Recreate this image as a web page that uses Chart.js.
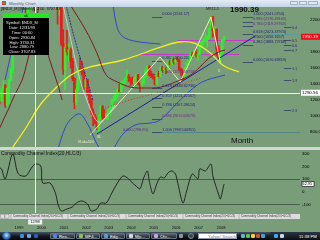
<!DOCTYPE html>
<html>
<head>
<meta charset="utf-8">
<title>Monthly Chart</title>
<script src="https://cdn.jsdelivr.net/npm/chart.js@4.4.1/dist/chart.umd.min.js"></script>
<style>
html,body{margin:0;padding:0}
body{width:320px;height:240px;overflow:hidden;position:relative;background:#799c79;font-family:"Liberation Sans",Arial,sans-serif}
.abs{position:absolute}
.tx{position:absolute;transform-origin:0 0;transform:scale(.25);font-size:17px;line-height:20px;white-space:nowrap}
#titlebar{left:0;top:0;width:320px;height:7px;background:linear-gradient(#e4ecf5,#c4d3e6)}
#main{left:0;top:7px}
#sep{left:0;top:147px;width:320px;height:3px;background:#d3d7d3}
#cci{left:0;top:150px}
#taskbar{left:0;top:232px;width:320px;height:8px;background:linear-gradient(#46525f,#141a22 50%,#05070a)}
.btn{position:absolute;top:233px;height:6px;border:1px solid #667382;border-radius:1px;background:linear-gradient(#55616e,#20282f);box-sizing:border-box}
.ico{position:absolute;top:234px;width:4px;height:4px;border-radius:1px}
</style>
</head>
<body>
<div id="titlebar" class="abs"></div>
<div class="abs" style="left:2px;top:1px;width:4px;height:4px;background:#6a9a3a;border:1px solid #c0463a;box-sizing:border-box"></div>
<span class="tx" style="left:9px;top:0.8px;color:#5b6270">Monthly Chart</span>
<div class="abs" style="left:290px;top:1px;width:8px;height:4px;border:1px solid #a3b1c3;background:#dfe7f1;box-sizing:border-box"></div>
<div class="abs" style="left:299px;top:1px;width:8px;height:4px;border:1px solid #a3b1c3;background:#dfe7f1;box-sizing:border-box"></div>
<div class="abs" style="left:308px;top:1px;width:10px;height:4px;border:1px solid #a3b1c3;background:#dfe7f1;box-sizing:border-box"></div>

<canvas id="main" class="abs" width="320" height="140"></canvas>
<div id="sep" class="abs"></div>
<canvas id="cci" class="abs" width="320" height="82"></canvas>

<div id="taskbar" class="abs"></div>
<div class="abs" style="left:2px;top:232px;width:9px;height:8px;border-radius:50%;background:radial-gradient(circle at 50% 40%,#bfe4ff,#3a7cc8 45%,#0b2a55 80%)"></div>
<div class="ico" style="left:20px;background:#3d8be0"></div>
<div class="ico" style="left:27px;background:#6fa8dc"></div>
<div class="ico" style="left:34px;background:#2c5fb0"></div>
<div class="btn" style="left:50px;width:25px"></div>
<div class="btn" style="left:76px;width:24px"></div>
<div class="btn" style="left:101px;width:24px"></div>
<div class="btn" style="left:126px;width:24px"></div>
<div class="btn" style="left:151px;width:26px"></div>
<div class="ico" style="left:53px;background:#4c86d8"></div>
<div class="ico" style="left:79px;background:#8bbf5a"></div>
<div class="ico" style="left:104px;background:#5a9ad8"></div>
<div class="ico" style="left:129px;background:#d0d8e0"></div>
<div class="ico" style="left:154px;background:#c9a0d8"></div>
<span class="tx" style="left:59px;top:234px;color:#fff">Rea...</span>
<span class="tx" style="left:85px;top:234px;color:#fff">MF4...</span>
<span class="tx" style="left:110px;top:234px;color:#fff">Edg...</span>
<span class="tx" style="left:135px;top:234px;color:#fff">Mjc...</span>
<span class="tx" style="left:160px;top:234px;color:#fff">Chr...</span>
<div class="ico" style="left:179px;background:#8a96a4"></div>
<div class="abs" style="left:188px;top:233px;width:6px;height:6px;border-radius:50%;background:#3a4450;border:1px solid #7a8694;box-sizing:border-box"></div>
<div class="abs" style="left:198px;top:233px;width:39px;height:6px;background:#fff;border:1px solid #8a96a6;box-sizing:border-box"></div>
<span class="tx" style="left:208px;top:234px;color:#777">Yahoo! Search</span>
<div class="ico" style="left:241px;background:#60b0e0"></div>
<div class="ico" style="left:246px;background:#6ac040"></div>
<div class="ico" style="left:251px;background:#f0d040"></div>
<div class="ico" style="left:256px;background:#d05040"></div>
<div class="ico" style="left:261px;background:#40a0d0"></div>
<div class="abs" style="left:270px;top:232px;width:50px;height:8px;background:linear-gradient(#2a3644,#0a0f16)"></div>
<div class="ico" style="left:274px;background:#4aa0e8"></div>
<div class="ico" style="left:280px;background:#c8d4e0"></div>
<span class="tx" style="left:299px;top:234px;color:#fff">11:38 PM</span>

<script>
// months are counted from Jan 1998 (0 = Jan 1998); first candle is May 1998
const firstMonth = 4;

const opens = [
  1245,1188,1337,1380,1140,1345,1449,1582,
  1836,2128,1934,2107,2137,2090,2296,2288,2406,2407,2660,2966,
  3708,3570,4266,4398,3774,3324,3764,3609,4078,3571,3283,2507,
  2342,2594,1908,1574,1855,1800,1830,1684,1470,1169,1330,1596,
  1577,1550,1359,1453,1277,1209,1051,962,943,833,990,1116,
  984,982,1010,1018,1106,1201,1201,1263,1331,1303,1417,1422,
  1468,1494,1469,1439,1401,1466,1517,1400,1380,1413,1485,1571,
  1622,1519,1504,1483,1394,1533,1494,1605,1568,1601,1580,1680,
  1645,1712,1675,1704,1700,1580,1576,1480,1599,1654,1737,1758,
  1757,1794,1758,1772,1869,1932,1935,1960,1985,2092,2239,2069,
  2085,1840,1733,1781,1950
];
const highs = [
  1270,1340,1440,1395,1360,1460,1600,1840,
  2175,2140,2145,2220,2230,2300,2410,2410,2480,2680,2980,3730,
  3836,4288,4816,4480,3900,3790,4060,4090,4110,3650,3430,2640,
  2730,2610,2080,1900,2070,1910,1850,1720,1480,1400,1610,1730,
  1680,1560,1520,1460,1330,1220,1090,1020,990,1020,1130,1130,
  1080,1030,1080,1110,1210,1250,1290,1340,1400,1430,1440,1470,
  1580,1520,1480,1490,1480,1520,1520,1410,1440,1500,1590,1630,
  1630,1560,1530,1500,1540,1560,1610,1620,1610,1610,1690,1700,
  1750,1720,1730,1740,1710,1600,1580,1610,1670,1750,1800,1800,
  1820,1830,1790,1870,1940,1970,2030,2000,2100,2240,2245,2120,
  2090,1880,1800,1960,2000
];
const lows = [
  1150,1180,1330,1110,1120,1150,1440,1540,
  1830,1890,1900,2020,2000,1990,2260,2180,2330,2330,2650,2960,
  3260,3540,4100,3230,3040,3250,3580,3500,3530,2990,2500,2150,
  2260,1880,1520,1330,1760,1680,1600,1440,1090,1140,1310,1550,
  1510,1330,1350,1260,1160,1020,880,900,830,795,960,960,
  970,960,950,1010,1100,1180,1190,1230,1300,1300,1370,1400,
  1460,1430,1380,1400,1370,1440,1390,1300,1370,1400,1480,1560,
  1500,1480,1460,1390,1390,1490,1490,1550,1540,1530,1570,1640,
  1640,1650,1660,1680,1560,1500,1450,1470,1590,1640,1720,1730,
  1740,1740,1690,1770,1860,1890,1930,1860,1960,2090,1990,2010,
  1750,1720,1670,1770,1940
];
const closes = [
  1188,1337,1380,1140,1345,1449,1582,1836,
  2128,1934,2107,2137,2090,2296,2288,2406,2407,2660,2966,3708,
  3570,4266,4398,3774,3324,3764,3609,4078,3571,3283,2507,2342,
  2594,1908,1574,1855,1800,1830,1684,1470,1169,1330,1596,1577,
  1550,1359,1453,1277,1209,1051,962,943,833,990,1116,984,
  982,1010,1018,1106,1201,1201,1263,1331,1303,1417,1422,1468,
  1494,1469,1439,1401,1466,1517,1400,1380,1413,1485,1571,1622,
  1519,1504,1483,1394,1533,1494,1605,1568,1601,1580,1680,1645,
  1712,1675,1704,1700,1580,1576,1480,1599,1654,1737,1758,1757,
  1794,1758,1772,1869,1932,1935,1960,1985,2092,2239,2069,2085,
  1840,1733,1781,1950,1990.39
];

// overlay lines (month, price)
const yellowT = [10,18,26,34,42,52,70,90,100,108,116,124,132];
const yellowP = [575,850,1150,1350,1510,1610,1700,1860,1925,1910,1800,1625,1550];
const maroonEarlyT = [4,8.5,12,16,19,22,25];
const maroonEarlyP = [850,1075,1260,1450,1700,2000,2380];
const maroon2T = [22,26.7,32,35.2,37.4];
const maroon2P = [2380,2012,1612,1387,1200];
const maroonT = [42,50,56,61,67,74,82,90,98,106,111,116,121,124.5];
const maroonP = [2380,2075,1790,1510,1425,1360,1350,1360,1425,1510,1610,1725,1800,1825];
const greyT = [38,42.7,47,52.3,56.6,60.4,65.7];
const greyP = [2380,1887,1450,1100,925,975,1137];
const blueDashT = [39.5,44.3,50.7,53.9];
const blueDashP = [2380,1950,1450,1200];
const blueLeftT = [6.9,10.6,14.9,17];
const blueLeftP = [1450,1825,2200,2380];
const blueUpperT = [64.6,67.3,71,79,90];
const blueUpperP = [2380,2075,1975,1925,1900];
const blueLow1T = [35,39,42.7,47,51.3,55,57.7];
const blueLow1P = [575,850,975,1025,888,700,575];
const blueLow2T = [64.6,69.5,76.4,84.4,89.8,100.5,109.6,114.9,124.5];
const blueLow2P = [575,762,887,912,950,1200,1387,1450,1512];
const redDotT = [60.4,73.7,89.8,100.5,111.2];
const redDotP = [1100,1200,1300,1387,1475];
const paleT = [52.3,89.8,100.5,117,122];
const paleP = [762,1737,1425,2237,1670];
const trendT = [56,141];
const trendP = [775,2005];

// fibonacci tools
const fibALabels = ['0.000 (2241.17)','0.382 (1690.23)','0.500 (1520.03718)','0.618 (1349.62736)','0.707 (1221.22567)','0.786 (1107.28624)','0.886 (963.003678)','1.000 (798.544351)'];
const fibAValues = [2241.17,1690.23,1520.04,1349.63,1221.23,1107.29,963.0,798.54];
const fibBLabels = ['1.000 (2241.5750)','0.886 (2176.48163)','0.786 (2119.29763)','0.618 (2023.47974)','0.500 (1956.1657)','0.382 (1888.72768)','0.000 (1670.63819)'];
const fibBValues = [2241.58,2176.48,2119.30,2023.48,1956.17,1888.73,1670.64];
const projLabels = ['0.4','0.5','0.6','0.7','1.1','1.3','2.3'];
const projValues = [2112,1950,1887,1825,1600,1450,1075];
const magentaValues = [1956.17,1775];
const magentaFrom = [99,79];
const magentaTo = [139.5,132];

// CCI(20, HLC/3), turning points
const cciT = [4,5,7,11,14,18,21,23,26,27,31,34,35,37,40,43,45,48,51,53,56,58,61,64,67,70,73,75,77,79,81,83,84,86,88,90,92,94,96,98,99,102,104,107,110,111,114,117,118,121,122,124];
const cciV = [190,182,103,300,142,126,189,221,205,71,71,-16,-87,-150,-134,-118,-87,-71,-95,-150,-134,-87,-87,-8,71,126,103,71,47,24,110,166,87,-16,63,118,110,150,166,142,87,-87,8,142,103,182,166,221,126,-16,-55,63];

const priceTicks = [800,1000,1200,1400,1600,1800,2000,2200];
const cciTicks = [300,200,100,0,-100];
const yearTicks = [12,24,36,48,60,72,84,96,108,120];
const yearLabels = ['1999','2000','2001','2002','2003','2004','2005','2006','2007','2008'];

const crossMonth = 23;       // 12/99
const crossPrice = 1290.56;
const lastPrice = 1990.39;
const cciNowLabel = '62.95';
const tipLines = ['Symbol: $NDX_M','Date: 12/31/99','Time: 00:00','Open: 2930.84','High: 3730.31','Low: 2880.79','Close: 3707.83'];

const xMin = 4.2, xMax = 164.6;
const FONT = '"Liberation Sans", Arial, sans-serif';
Chart.defaults.font.family = FONT;
Chart.defaults.color = '#000';

const upColor = '#2cf02c', downColor = '#f01818';
const months = opens.map((_, i) => firstMonth + i);
const candleCol = opens.map((o, i) => closes[i] >= o ? upColor : downColor);

function pts(ts, vs) { return ts.map((t, i) => ({x: t, y: vs[i]})); }
function overlay(ts, vs, color, width, extra) {
  return Object.assign({type: 'line', data: pts(ts, vs), borderColor: color, borderWidth: width,
    pointRadius: 0, tension: 0.35, fill: false, order: 0}, extra || {});
}
function txt(ctx, s, px, py, size, color, align, weight) {
  ctx.font = (weight || '') + ' ' + size + 'px ' + FONT;
  ctx.fillStyle = color;
  ctx.textAlign = align || 'left';
  ctx.textBaseline = 'middle';
  ctx.fillText(s, px, py);
}

const mainDeco = {
  id: 'mainDeco',
  beforeDatasetsDraw(chart) {
    const {ctx, chartArea: a, scales: {x, y}} = chart;
    ctx.save();
    ctx.beginPath(); ctx.rect(a.left, a.top, a.width, a.height); ctx.clip();
    const hline = (v, t0, t1, color) => {
      const py = Math.round(y.getPixelForValue(v)) + 0.5;
      ctx.strokeStyle = color; ctx.lineWidth = 1;
      ctx.beginPath(); ctx.moveTo(x.getPixelForValue(t0), py); ctx.lineTo(x.getPixelForValue(t1), py); ctx.stroke();
    };
    fibAValues.forEach(v => hline(v, 85.5, 91, '#3f5068'));
    fibBValues.forEach(v => hline(v, 134, 139.5, '#3f5068'));
    projValues.forEach(v => hline(v, 156, 160, '#3f5068'));
    hline(798.54, 91, xMax, '#4f8a86');
    hline(2023.48, 148, xMax, '#5f9a96');
    magentaValues.forEach((v, i) => hline(v, magentaFrom[i], magentaTo[i], '#c23cc8'));
    ctx.restore();
  },
  afterDatasetsDraw(chart) {
    const {ctx, chartArea: a, scales: {x, y}} = chart;
    ctx.save();
    ctx.strokeStyle = '#f0f0f0'; ctx.lineWidth = 1;
    const cx = Math.round(x.getPixelForValue(crossMonth)) + 0.5;
    const cy = Math.round(y.getPixelForValue(crossPrice)) + 0.5;
    ctx.beginPath(); ctx.moveTo(cx, a.top); ctx.lineTo(cx, a.bottom); ctx.stroke();
    ctx.beginPath(); ctx.moveTo(a.left, cy); ctx.lineTo(a.right, cy); ctx.stroke();
    ctx.restore();
  },
  afterDraw(chart) {
    const {ctx, chartArea: a, scales: {x, y}} = chart;
    ctx.save();
    // fib labels sit just above their level
    ctx.font = '3.8px ' + FONT; ctx.textBaseline = 'alphabetic'; ctx.textAlign = 'left';
    fibALabels.forEach((s, i) => {
      ctx.fillStyle = (i === 2 || i === 6) ? '#7a2a8a' : '#2a2278';
      ctx.fillText(s, x.getPixelForValue(91), y.getPixelForValue(fibAValues[i]) - 1.5);
    });
    fibBLabels.forEach((s, i) => {
      ctx.fillStyle = (i === 1 || i === 2) ? '#6a2a8a' : '#2a2278';
      ctx.fillText(s, x.getPixelForValue(139.5), y.getPixelForValue(fibBValues[i]) - 1.5);
    });
    ctx.fillStyle = '#3a2a7a';
    projLabels.forEach((s, i) => ctx.fillText(s, x.getPixelForValue(160.3), y.getPixelForValue(projValues[i]) + 1.5));
    ctx.fillStyle = '#5a2a8a';
    ctx.fillText('0.000 (798.90)', x.getPixelForValue(70), y.getPixelForValue(798.9) - 1.5);

    // wave / pattern notes
    const lowX = x.getPixelForValue(57), lowY = y.getPixelForValue(795);
    txt(ctx, '31', lowX - 2, lowY + 5, 3.8, '#e8ecd8');
    txt(ctx, '31ab=524', lowX - 21, lowY + 10, 3.6, '#e8ecd8');
    txt(ctx, '5', x.getPixelForValue(120.8), y.getPixelForValue(1560), 3.8, '#e8ecd8');
    txt(ctx, 'MR12-5', x.getPixelForValue(117) - 5, y.getPixelForValue(2239) - 8, 3.6, '#222');
    txt(ctx, lastPrice.toFixed(2), 230, 3, 8, '#111', 'left', 'bold');
    txt(ctx, 'Month', 231, 134, 8, '#111');
    txt(ctx, '[$NDX_M] [Monthly]  2.00  3707.83', 1, 2.4, 3.8, '#111');

    // price boxes on the right axis
    const box = (v, bg, fg) => {
      const py = y.getPixelForValue(v);
      ctx.fillStyle = bg; ctx.fillRect(a.right + 1, py - 3, 19, 6);
      txt(ctx, v.toFixed(2), a.right + 2, py + 0.2, 4.4, fg);
    };
    box(lastPrice, '#e8101a', '#ffd6d6');
    box(crossPrice, '#ffffff', '#000');

    // data window
    ctx.fillStyle = '#000'; ctx.fillRect(3, 6, 46, 42);
    ctx.fillStyle = '#22e622'; ctx.fillRect(3, 6, 46, 5);
    txt(ctx, 'ok', 26, 8.6, 3.8, '#000', 'center');
    tipLines.forEach((s, i) => txt(ctx, s, 22, 16 + i * 4.85, 4, '#e6e6e6', 'center'));
    ctx.restore();
  }
};

new Chart(document.getElementById('main'), {
  type: 'bar',
  data: {
    datasets: [
      {label: 'wick', data: months.map((t, i) => ({x: t, y: [lows[i], highs[i]]})),
        backgroundColor: candleCol, barThickness: 1, grouped: false, order: 3},
      {label: 'body', data: months.map((t, i) => ({x: t, y: [opens[i], closes[i]]})),
        backgroundColor: candleCol, barThickness: 2, grouped: false, minBarLength: 1, order: 2},
      overlay(maroonEarlyT, maroonEarlyP, '#7a1c1c', 1),
      overlay(maroon2T, maroon2P, '#7a1c1c', 1),
      overlay(maroonT, maroonP, '#7a1c1c', 1),
      overlay(greyT, greyP, '#c9cfc2', 1),
      overlay(blueDashT, blueDashP, '#24349e', 1, {borderDash: [2, 1]}),
      overlay(blueLeftT, blueLeftP, '#3048cc', 1),
      overlay(blueUpperT, blueUpperP, '#3048cc', 1),
      overlay(blueLow1T, blueLow1P, '#3048cc', 1),
      overlay(blueLow2T, blueLow2P, '#3048cc', 1),
      overlay(redDotT, redDotP, '#c23a22', 1, {borderDash: [1, 2]}),
      overlay(yellowT, yellowP, '#f0f020', 1.3),
      overlay(paleT, paleP, '#f2f0b8', 1, {tension: 0}),
      overlay(trendT, trendP, '#1c1ca0', 1, {tension: 0})
    ]
  },
  options: {
    responsive: false, animation: false, devicePixelRatio: 1,
    layout: {padding: 0},
    plugins: {legend: {display: false}, tooltip: {enabled: false}},
    scales: {
      x: {type: 'linear', min: xMin, max: xMax, offset: false, display: false},
      y: {
        position: 'right', min: 612.5, max: 2362.5,
        afterBuildTicks: s => { s.ticks = priceTicks.map(v => ({value: v})); },
        afterFit: s => { s.width = 20; s.paddingTop = 0; s.paddingBottom = 0; },
        ticks: {callback: v => v.toFixed(2), font: {size: 4.4}, color: '#000', padding: 2, autoSkip: false},
        grid: {display: false}, border: {display: false}
      }
    }
  },
  plugins: [mainDeco]
});

const cciDeco = {
  id: 'cciDeco',
  afterDatasetsDraw(chart) {
    const {ctx, chartArea: a, scales: {x}} = chart;
    ctx.save();
    ctx.strokeStyle = '#f0f0f0'; ctx.lineWidth = 1;
    const cx = Math.round(x.getPixelForValue(crossMonth)) + 0.5;
    ctx.beginPath(); ctx.moveTo(cx, a.top); ctx.lineTo(cx, a.bottom); ctx.stroke();
    ctx.restore();
  },
  afterDraw(chart) {
    const {ctx, chartArea: a, scales: {x, y}} = chart;
    ctx.save();
    txt(ctx, 'Commodity Channel Index(20,HLC/3)', 1, 3.2, 4.8, '#111');
    // panel tabs
    ctx.fillStyle = '#dcdcdc'; ctx.fillRect(0, a.bottom + 1, a.right, 5);
    ctx.strokeStyle = '#9a9a9a'; ctx.lineWidth = 0.6;
    ctx.strokeRect(0.5, a.bottom + 1.5, 4, 4); ctx.strokeRect(5, a.bottom + 1.5, 4, 4);
    [11, 68, 126, 183, 239].forEach(tx => {
      ctx.beginPath(); ctx.moveTo(tx, a.bottom + 1); ctx.lineTo(tx, a.bottom + 6); ctx.stroke();
      txt(ctx, 'Commodity Channel Index(20,HLC/3)', tx + 2, a.bottom + 3.6, 3, '#444');
    });
    // cursor date
    const cx = x.getPixelForValue(crossMonth);
    ctx.fillStyle = '#f2f2f2'; ctx.fillRect(cx - 7, a.bottom + 6.5, 14, 5);
    txt(ctx, '12/99', cx, a.bottom + 9.2, 3.8, '#111', 'center');
    // current value box
    const vy = y.getPixelForValue(cciV[cciV.length - 1]);
    ctx.fillStyle = '#fff'; ctx.fillRect(a.right + 2, vy - 2.5, 12, 5);
    ctx.strokeStyle = '#000'; ctx.lineWidth = 0.6; ctx.strokeRect(a.right + 2, vy - 2.5, 12, 5);
    txt(ctx, cciNowLabel, a.right + 2.6, vy + 0.2, 3.8, '#000');
    ctx.restore();
  }
};

new Chart(document.getElementById('cci'), {
  type: 'line',
  data: {
    datasets: [{data: pts(cciT, cciV), borderColor: '#1c1c1c', borderWidth: 0.9, pointRadius: 0, tension: 0.3, fill: false}]
  },
  options: {
    responsive: false, animation: false, devicePixelRatio: 1,
    layout: {padding: 0},
    plugins: {legend: {display: false}, tooltip: {enabled: false}},
    scales: {
      x: {
        type: 'linear', min: xMin, max: xMax, offset: false,
        afterBuildTicks: s => { s.ticks = yearTicks.map(v => ({value: v})); },
        afterFit: s => { s.height = 19; s.paddingLeft = 0; s.paddingRight = 0; },
        ticks: {callback: (v, i) => yearLabels[i], align: 'start', padding: 12, maxRotation: 0, autoSkip: false,
          font: {size: 4}, color: '#111'},
        grid: {display: false, drawTicks: false}, border: {display: false}
      },
      y: {
        position: 'right', min: -166, max: 331,
        afterBuildTicks: s => { s.ticks = cciTicks.map(v => ({value: v})); },
        afterFit: s => { s.width = 20; s.paddingTop = 0; s.paddingBottom = 0; },
        ticks: {callback: v => String(v), font: {size: 4.4}, color: '#000', padding: 2, autoSkip: false},
        grid: {drawTicks: false, lineWidth: 1,
          color: c => (c.tick && Math.abs(c.tick.value) === 100) ? '#4c5c4c' : 'rgba(0,0,0,0)'},
        border: {display: false}
      }
    }
  },
  plugins: [cciDeco]
});
</script>
</body>
</html>
